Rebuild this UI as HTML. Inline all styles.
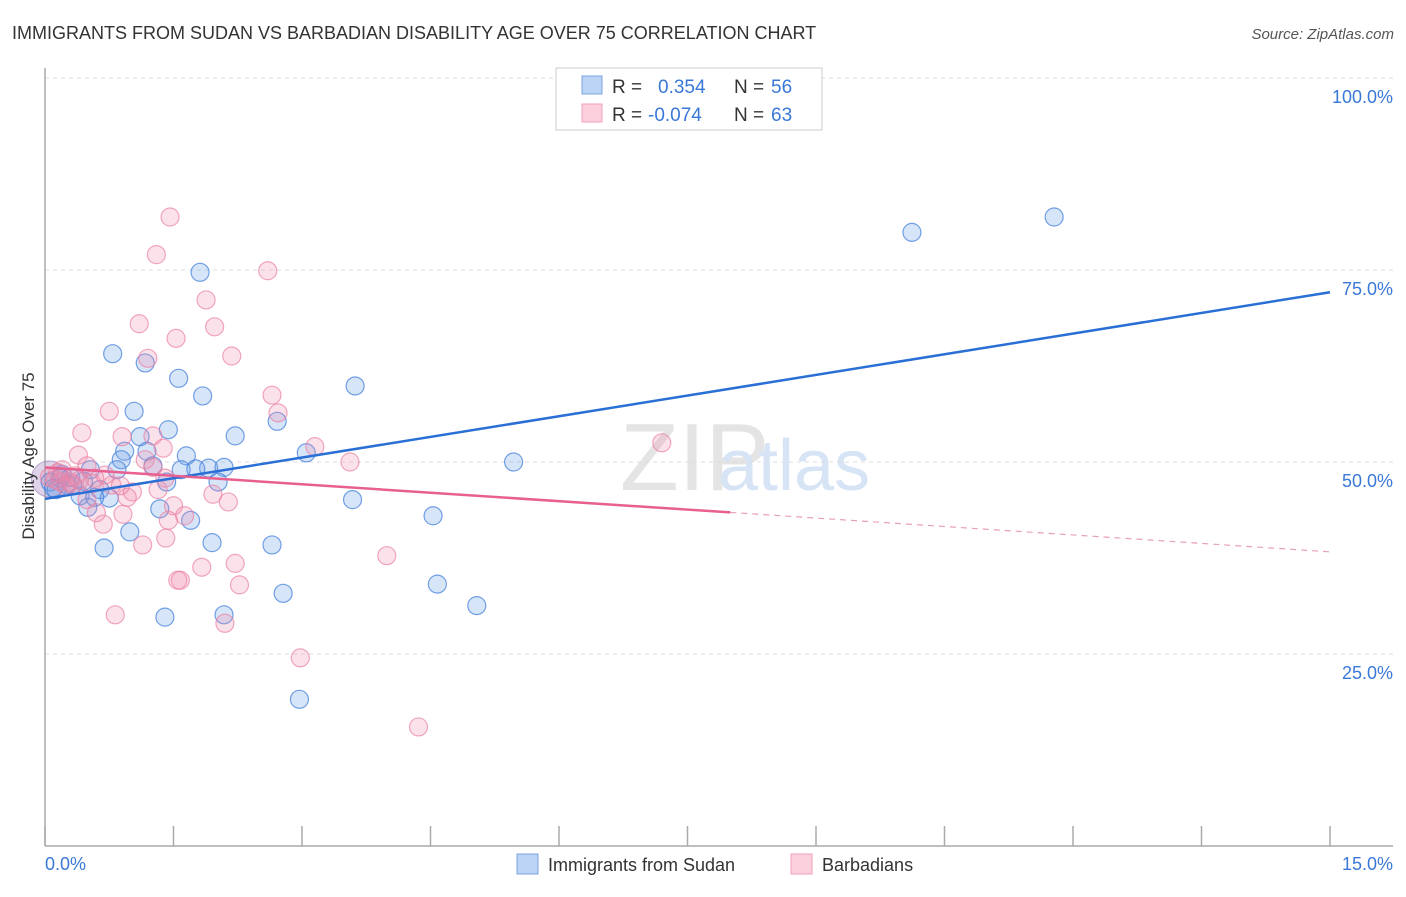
<!DOCTYPE html>
<html><head><meta charset="utf-8"><style>
body{margin:0;background:#fff;font-family:"Liberation Sans",sans-serif;}
svg text{font-family:"Liberation Sans",sans-serif;}
</style></head><body>
<svg id="chart" width="1406" height="892">
<text x="12" y="39" font-size="18" fill="#333">IMMIGRANTS FROM SUDAN VS BARBADIAN DISABILITY AGE OVER 75 CORRELATION CHART</text>
<text x="1394" y="39" font-size="15" fill="#555" text-anchor="end" font-style="italic">Source: ZipAtlas.com</text>
<text x="620" y="490" font-size="96" fill="#e4e4e4" font-family="Liberation Serif">ZIP</text>
<text x="718" y="490" font-size="72" fill="#d6e4f5">atlas</text>
<g id="grid"></g>
<g id="axes"></g>
<g id="pts"></g>
<g id="lines"></g>
<text x="34" y="456" font-size="17" fill="#333" text-anchor="middle" transform="rotate(-90 34 456)">Disability Age Over 75</text>
<g>
<rect x="556" y="68" width="266" height="62" fill="#fff" stroke="#ccc"/>
<rect x="582" y="76" width="20" height="18" fill="#bcd4f5" stroke="#7aa4e0"/>
<rect x="582" y="104" width="20" height="18" fill="#fbd0dc" stroke="#f0a0b8"/>
<text x="612" y="93" font-size="19" fill="#333">R = </text><text x="658" y="93" font-size="19" fill="#3a78d8">0.354</text>
<text x="734" y="93" font-size="19" fill="#333">N = </text><text x="771" y="93" font-size="19" fill="#3a78d8">56</text>
<text x="612" y="121" font-size="19" fill="#333">R = </text><text x="648" y="121" font-size="19" fill="#3a78d8">-0.074</text>
<text x="734" y="121" font-size="19" fill="#333">N = </text><text x="771" y="121" font-size="19" fill="#3a78d8">63</text>
</g>
<g>
<rect x="517" y="854" width="21" height="20" fill="#bcd4f5" stroke="#7aa4e0"/>
<text x="548" y="871" font-size="18" fill="#333">Immigrants from Sudan</text>
<rect x="791" y="854" width="21" height="20" fill="#fbd0dc" stroke="#f0a0b8"/>
<text x="822" y="871" font-size="18" fill="#333">Barbadians</text>
</g>
</svg>
<script>
const xTicks=[0,1.5,3,4.5,6,7.5,9,10.5,12,13.5,15];
const yTicks=[25,50,75,100];
const yTickLabels=["25.0%","50.0%","75.0%","100.0%"];
const blueX=[11.78,10.12,1.81,0.79,1.17,1.56,3.62,1.84,1.04,2.71,1.44,1.11,2.22,0.93,1.19,3.05,1.65,0.89,5.47,1.26,1.91,2.09,1.59,0.84,0.53,1.76,1.42,2.02,0.18,0.06,0.32,0.64,0.13,0.41,0.75,0.58,3.59,0.50,1.34,1.70,4.53,0.99,1.95,0.69,2.65,4.58,2.78,5.04,1.40,2.09,2.97,0.10,0.25,0.30,0.45,0.20];
const blueY=[81.9,79.9,74.7,64.1,62.9,60.9,59.9,58.6,56.6,55.3,54.2,53.3,53.4,51.4,51.4,51.2,50.8,50.3,50.0,49.5,49.2,49.3,49.0,49.0,49.0,49.1,47.4,47.4,47.9,47.4,47.0,46.4,46.4,45.6,45.3,45.4,45.1,44.1,43.9,42.4,43.0,40.9,39.5,38.8,39.2,34.1,32.9,31.3,29.8,30.1,19.1,46.6,47.1,48.0,47.5,48.4];
const pinkX=[1.46,1.30,2.60,1.88,1.10,1.98,1.53,2.18,1.20,2.65,0.75,2.72,0.43,0.90,1.26,3.15,1.38,7.20,0.39,1.17,3.56,0.49,1.26,0.20,0.58,1.40,0.78,0.12,0.29,1.02,1.32,1.96,0.96,0.49,2.14,1.50,0.60,0.91,1.63,1.44,0.68,1.41,1.14,3.99,1.83,2.22,1.58,2.27,0.82,2.10,2.98,4.36,0.18,0.35,0.05,0.55,1.55,0.25,0.40,0.15,0.70,0.88,0.33];
const pinkY=[81.9,77.0,74.9,71.1,68.0,67.6,66.1,63.8,63.5,58.7,56.6,56.4,53.8,53.3,53.4,52.0,51.8,52.5,50.9,50.3,50.0,49.5,49.3,49.0,47.9,47.9,47.0,47.7,47.4,46.1,46.4,45.8,45.4,45.1,44.8,44.3,43.4,43.2,43.0,42.4,41.9,40.1,39.2,37.8,36.3,36.8,34.6,34.0,30.1,29.0,24.5,15.5,47.4,48.2,48.0,47.2,34.6,46.8,47.6,48.6,48.3,46.9,47.0];
const blueTrend=[45.2,72.1];
const pinkTrend=[49.3,38.3];
const pinkSolidEnd=8.0;
const NS="http://www.w3.org/2000/svg";
const X=v=>45+v/15*1285, Y=v=>846-v/100*768;
function mk(t,a,p){const e=document.createElementNS(NS,t);for(const k in a)e.setAttribute(k,a[k]);p.appendChild(e);return e;}
const grid=document.getElementById('grid'),axes=document.getElementById('axes'),pts=document.getElementById('pts'),lines=document.getElementById('lines');
yTicks.forEach((t,i)=>{
 const g=mk('line',{x1:45,x2:1393,y1:Y(t),y2:Y(t),stroke:'#ddd','stroke-dasharray':'4,4'},grid);
 
 
 const l=mk('text',{x:1393,y:Y(t)+25,'font-size':18,fill:'#3a78d8','text-anchor':'end'},axes);
 l.textContent=yTickLabels[i];
 
 
});
const ya=mk('line',{x1:45,x2:45,y1:68,y2:846,stroke:'#aaa','stroke-width':1.5},axes);


const xa=mk('line',{x1:45,x2:1393,y1:846,y2:846,stroke:'#aaa','stroke-width':1.5},axes);


xTicks.forEach(t=>{
 const k=mk('line',{x1:X(t),x2:X(t),y1:826,y2:846,stroke:'#aaa','stroke-width':1.5},axes);
 
 
});
[[0,45,'start','0.0%'],[15,1393,'end','15.0%']].forEach(a=>{
 const l=mk('text',{x:a[1],y:870,'font-size':18,fill:'#3a78d8','text-anchor':a[2]},axes);
 l.textContent=a[3];
 
 
});
function dots(xs,ys,fill,stroke,name){
 xs.forEach((x,i)=>{
  const c=mk('circle',{cx:X(x),cy:Y(ys[i]),r:9,fill:fill,stroke:stroke,'stroke-width':1.2},pts);
  
  
 });
}
const big=mk('circle',{cx:X(0.05),cy:Y(47.8),r:18,fill:'rgba(160,130,190,0.35)',stroke:'rgba(150,120,180,0.6)'},pts);


dots(blueX,blueY,'rgba(110,160,230,0.28)','rgba(70,130,220,0.75)','sudan-point');
dots(pinkX,pinkY,'rgba(240,140,170,0.25)','rgba(235,130,165,0.7)','barbadian-point');
const bl=mk('line',{x1:X(0),y1:Y(blueTrend[0]),x2:X(15),y2:Y(blueTrend[1]),stroke:'#2a6fd6','stroke-width':2.5},lines);


const py=x=>pinkTrend[0]+(pinkTrend[1]-pinkTrend[0])*x/15;
const pl=mk('line',{x1:X(0),y1:Y(py(0)),x2:X(pinkSolidEnd),y2:Y(py(pinkSolidEnd)),stroke:'#e8608f','stroke-width':2.5},lines);


const pd=mk('line',{x1:X(pinkSolidEnd),y1:Y(py(pinkSolidEnd)),x2:X(15),y2:Y(py(15)),stroke:'#e8a0b8','stroke-width':1.2,'stroke-dasharray':'6,5'},lines);


</script>
</body></html>
